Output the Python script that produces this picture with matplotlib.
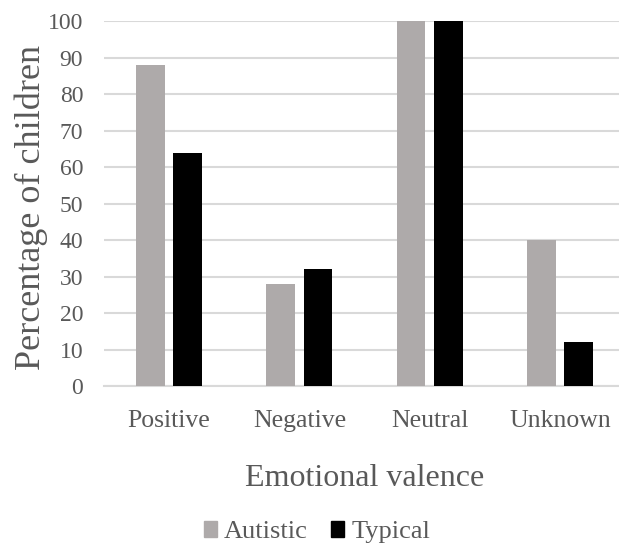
import numpy as np
import matplotlib.pyplot as plt
from matplotlib.patches import Patch

# Percentage of children per emotional valence category
categories = ["Positive", "Negative", "Neutral", "Unknown"]
autistic = [88, 28, 100, 40]
typical = [64, 32, 100, 12]

plt.rcParams["font.family"] = ["Liberation Serif", "DejaVu Serif"]
text_color = "#595959"
grid_color = "#D9D9D9"

fig = plt.figure(figsize=(6.19, 5.46), dpi=100)
ax = fig.add_axes([0.168, 0.293, 0.842, 0.668])

x = np.arange(len(categories))
width = 0.22
ax.bar(x - 0.143, autistic, width, color="#AEAAAA", label="Autistic", zorder=3)
ax.bar(x + 0.143, typical, width, color="black", label="Typical", zorder=3)

ax.set_xlim(-0.5, len(categories) - 0.5)
ax.set_ylim(0, 100)
ax.set_yticks(range(0, 101, 10))
ax.set_xticks(x)
ax.set_xticklabels(categories)

ax.yaxis.grid(True, color=grid_color, linewidth=1.5, zorder=0)
for side in ["top", "right", "left"]:
    ax.spines[side].set_visible(False)
ax.spines["bottom"].set_color(grid_color)
ax.spines["bottom"].set_linewidth(1.5)
ax.tick_params(axis="both", length=0, colors=text_color)
ax.tick_params(axis="y", labelsize=17, pad=15)
ax.tick_params(axis="x", labelsize=18.5, pad=17)

ax.set_ylabel("Percentage of children", fontsize=26, color=text_color)
ax.yaxis.set_label_coords(-0.108, 0.49)
ax.set_xlabel("Emotional valence", fontsize=23, color=text_color, labelpad=23)

handles = [Patch(color="#AEAAAA", label="Autistic"), Patch(color="black", label="Typical")]
fig.legend(handles=handles, loc="center", bbox_to_anchor=(0.512, 0.025), ncol=2,
           frameon=False, fontsize=19, labelcolor=text_color,
           handlelength=0.5, handleheight=0.5, handletextpad=0.25, columnspacing=0.9)

fig.savefig("out.png", dpi=100)
